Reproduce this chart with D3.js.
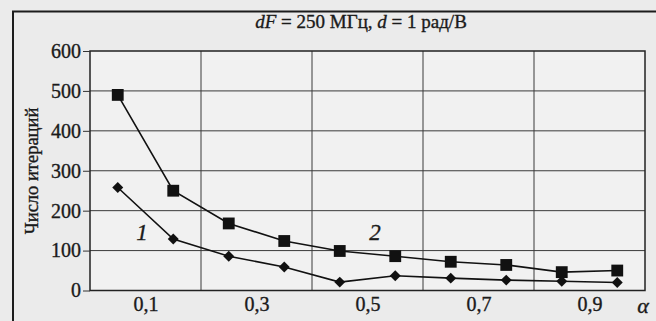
<!DOCTYPE html>
<html>
<head>
<meta charset="utf-8">
<script src="https://cdn.jsdelivr.net/npm/d3@7/dist/d3.min.js"></script>
<style>
  html, body { margin: 0; padding: 0; background: #ebebeb; }
  svg { display: block; }
</style>
</head>
<body>
<svg id="chart" width="656" height="321"></svg>
<script>
// Iteration count versus the coefficient alpha, two curves
const alphaValues = [0.05, 0.15, 0.25, 0.35, 0.45, 0.55, 0.65, 0.75, 0.85, 0.95];
const curve1 = [258, 129, 86, 59, 21, 37, 31, 26, 23, 20];   // diamonds, curve 1
const curve2 = [490, 250, 168, 124, 99, 86, 72, 64, 46, 50]; // squares, curve 2
const xTickValues = [0.1, 0.3, 0.5, 0.7, 0.9];
const xGridValues = [0.2, 0.4, 0.6, 0.8];
const yTickValues = [0, 100, 200, 300, 400, 500, 600];
const yAxisTitle = "Число итераций";
const xAxisTitle = "α";

const SERIF = "'Liberation Serif', 'Times New Roman', 'DejaVu Serif', serif";
const INK = "#1a1a1a";

// serif text with a slightly heavier print weight
function ink(sel, size, italic) {
  return sel.style("font-family", SERIF).style("font-size", size + "px")
    .style("font-style", italic ? "italic" : "normal")
    .attr("fill", INK).attr("stroke", INK).attr("stroke-width", 0.35);
}

const svg = d3.select("#chart");
const plot = { left: 90, right: 645, top: 51, bottom: 290.5 };

const x = d3.scaleLinear().domain([0, 1]).range([plot.left, plot.right]);
const y = d3.scaleLinear().domain([0, 600]).range([plot.bottom, plot.top]);

// outer frame of the figure
svg.append("path")
  .attr("d", "M13,330 L13,11.5 L660,11.5")
  .attr("fill", "none").attr("stroke", "#1c1c1c").attr("stroke-width", 2);

// plot background
svg.append("rect")
  .attr("x", plot.left).attr("y", plot.top)
  .attr("width", plot.right - plot.left).attr("height", plot.bottom - plot.top)
  .attr("fill", "#f1f1f1");

// horizontal grid
svg.append("g").selectAll("line")
  .data(yTickValues.filter(v => v > 0 && v < 600))
  .join("line")
  .attr("x1", plot.left).attr("x2", plot.right)
  .attr("y1", d => y(d)).attr("y2", d => y(d))
  .attr("stroke", "#3a3a3a").attr("stroke-width", 1);

// vertical grid
svg.append("g").selectAll("line")
  .data(xGridValues)
  .join("line")
  .attr("x1", d => x(d)).attr("x2", d => x(d))
  .attr("y1", plot.top).attr("y2", plot.bottom)
  .attr("stroke", "#3a3a3a").attr("stroke-width", 1);

// plot frame
svg.append("rect")
  .attr("x", plot.left).attr("y", plot.top)
  .attr("width", plot.right - plot.left).attr("height", plot.bottom - plot.top)
  .attr("fill", "none").attr("stroke", "#222").attr("stroke-width", 1.5);

// y axis
const yAxis = d3.axisLeft(y).tickValues(yTickValues).tickSize(7).tickPadding(2).tickFormat(d3.format("d"));
const gy = svg.append("g").attr("transform", `translate(${plot.left},0)`).call(yAxis);
gy.select(".domain").remove();
gy.selectAll(".tick line").attr("stroke", "#333");
ink(gy.selectAll(".tick text"), 20, false);

// x axis
const fmtComma = d => d3.format(".1f")(d).replace(".", ",");
const xAxis = d3.axisBottom(x).tickValues(xTickValues).tickSize(0).tickPadding(6).tickFormat(fmtComma);
const gx = svg.append("g").attr("transform", `translate(0,${plot.bottom})`).call(xAxis);
gx.select(".domain").remove();
ink(gx.selectAll(".tick text"), 20, false);

// axis titles
ink(svg.append("text")
  .attr("transform", `translate(38,171) rotate(-90)`)
  .attr("text-anchor", "middle"), 18.5, false)
  .text(yAxisTitle);

ink(svg.append("text")
  .attr("x", 643).attr("y", 313)
  .attr("text-anchor", "middle"), 22, true)
  .text(xAxisTitle);

// chart title
const title = ink(svg.append("text")
  .attr("x", 361).attr("y", 28)
  .attr("text-anchor", "middle"), 19, false);
title.append("tspan").style("font-style", "italic").text("dF");
title.append("tspan").text(" = 250 МГц, ");
title.append("tspan").style("font-style", "italic").text("d");
title.append("tspan").text(" = 1 рад/В");

// curves
const line = d3.line().x((d, i) => x(alphaValues[i])).y(d => y(d));

svg.append("path").datum(curve2)
  .attr("d", line).attr("fill", "none").attr("stroke", "#111").attr("stroke-width", 1.6);
svg.append("path").datum(curve1)
  .attr("d", line).attr("fill", "none").attr("stroke", "#111").attr("stroke-width", 1.6);

svg.append("g").selectAll("path")
  .data(curve2)
  .join("path")
  .attr("transform", (d, i) => `translate(${x(alphaValues[i])},${y(d)})`)
  .attr("d", d3.symbol(d3.symbolSquare, 140))
  .attr("fill", "#111");

svg.append("g").selectAll("path")
  .data(curve1)
  .join("path")
  .attr("transform", (d, i) => `translate(${x(alphaValues[i])},${y(d)}) rotate(45)`)
  .attr("d", d3.symbol(d3.symbolSquare, 60))
  .attr("fill", "#111");

// curve numbers
ink(svg.append("text")
  .attr("x", 142).attr("y", 240).attr("text-anchor", "middle"), 23, true)
  .text("1");
ink(svg.append("text")
  .attr("x", 375).attr("y", 240).attr("text-anchor", "middle"), 23, true)
  .text("2");
</script>
</body>
</html>
